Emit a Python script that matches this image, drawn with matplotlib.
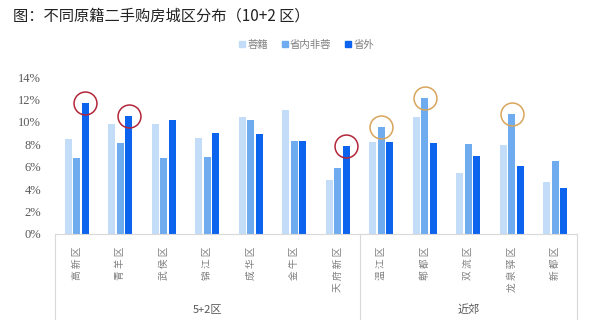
import matplotlib
matplotlib.use("Agg")
import matplotlib.pyplot as plt
from matplotlib.lines import Line2D
import numpy as np

plt.rcParams['font.family'] = ['Noto Sans CJK SC', 'DejaVu Sans']

categories = ["高新区", "青羊区", "武侯区", "锦江区", "成华区", "金牛区", "天府新区",
              "温江区", "郫都区", "双流区", "龙泉驿区", "新都区"]
series_names = ["蓉籍", "省内非蓉", "省外"]
rongji = [8.45, 9.8, 9.85, 8.55, 10.45, 11.1, 4.8, 8.2, 10.4, 5.4, 7.95, 4.65]
shengnei = [6.75, 8.15, 6.75, 6.85, 10.15, 8.3, 5.9, 9.55, 12.15, 8.0, 10.7, 6.5]
shengwai = [11.65, 10.5, 10.15, 9.0, 8.9, 8.25, 7.85, 8.2, 8.1, 7.0, 6.05, 4.1]
groups = ["5+2区", "近郊"]
group_sizes = [7, 5]
red_circled = [0, 1, 6]      # 省外 highlighted
orange_circled = [7, 8, 10]  # 省内非蓉 highlighted
yticks = [0, 2, 4, 6, 8, 10, 12, 14]

colors = ["#C3DCF7", "#6FACEF", "#0C63EE"]

fig = plt.figure(figsize=(6.0, 3.27), dpi=100)
ax = fig.add_axes([55/600, 93/327, 522/600, 157/327])

x = np.arange(len(categories))
step = 0.193
width = 0.155
for k, vals in enumerate([rongji, shengnei, shengwai]):
    ax.bar(x + (k - 1) * step, vals, width=width, color=colors[k], label=series_names[k], zorder=2)

for i in red_circled:
    ax.plot(x[i] + step, shengwai[i], marker='o', markersize=16.5, markerfacecolor='none',
            markeredgecolor='#B3263A', markeredgewidth=1.1, zorder=3, clip_on=False)
for i in orange_circled:
    ax.plot(x[i], shengnei[i], marker='o', markersize=16.5, markerfacecolor='none',
            markeredgecolor='#D9A45C', markeredgewidth=1.1, zorder=3, clip_on=False)

ax.set_xlim(-0.5, len(categories) - 0.5)
ax.set_ylim(0, 14)
ax.set_yticks(yticks)
ax.set_yticklabels([f"{v}%" for v in yticks], family='Liberation Serif', fontsize=9, color='#595959')
ax.tick_params(axis='y', length=0, pad=10)
ax.set_xticks([])
for s in ['top', 'right', 'left']:
    ax.spines[s].set_visible(False)
ax.spines['bottom'].set_color('#D9D9D9')
ax.spines['bottom'].set_linewidth(0.8)

trans = ax.get_xaxis_transform()
for i, c in enumerate(categories):
    ax.text(x[i], -0.08, " ".join(c), transform=trans, ha='center', va='top', rotation=90,
            fontsize=7, color='#7F7F7F')

bounds = [-0.5]
for gsz in group_sizes:
    bounds.append(bounds[-1] + gsz)
for b in bounds:
    ax.plot([b, b], [0, -0.54], transform=trans, color='#D9D9D9', lw=0.8, clip_on=False)
for gi, g in enumerate(groups):
    ax.text((bounds[gi] + bounds[gi + 1]) / 2, -0.485, g, transform=trans, ha='center', va='center',
            fontsize=8, color='#595959')

fig.text(13/600, 1 - 16/327, "图：不同原籍二手购房城区分布（10+2 区）", fontsize=11, color='#222222',
         ha='left', va='center')

handles = [Line2D([], [], marker='s', linestyle='none', markersize=5, color=c) for c in colors]
fig.legend(handles, series_names, loc='center', bbox_to_anchor=(0.51, 1 - 45/327), ncol=3,
           frameon=False, fontsize=7.5, labelcolor='#7F7F7F', handletextpad=0.1, columnspacing=1.2,
           handlelength=0.8)

fig.savefig("out.png", dpi=100, facecolor='white')
